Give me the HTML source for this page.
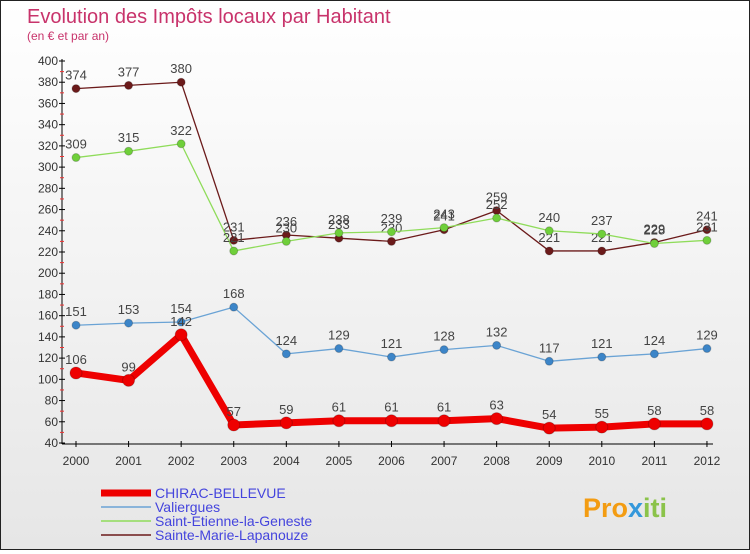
<!DOCTYPE html>
<html><head><meta charset="utf-8"><style>
body{margin:0;width:750px;height:550px;overflow:hidden;font-family:"Liberation Sans",sans-serif}
#wrap{position:relative;width:748px;height:548px;border:1px solid #222;background:linear-gradient(#fff,#e6e6e6)}
</style></head><body>
<div id="wrap">
<svg id="chart" width="748" height="548">
<text x="26" y="22" font-size="20" fill="#c8336b">Evolution des Impôts locaux par Habitant</text>
<text x="26" y="39" font-size="12" fill="#c8336b">(en € et par an)</text>
<g id="axes"></g><g id="series"></g><g id="legend"></g>
<text x="582" y="516" font-size="27" font-weight="bold" fill="#f39c12">Pro<tspan fill="#3498db">x</tspan><tspan fill="#8bc34a">iti</tspan></text>
</svg></div>
<script>
const years=[2000,2001,2002,2003,2004,2005,2006,2007,2008,2009,2010,2011,2012];
const yTicks=[40,60,80,100,120,140,160,180,200,220,240,260,280,300,320,340,360,380,400];
const chirac=[106,99,142,57,59,61,61,61,63,54,55,58,58];
const valiergues=[151,153,154,168,124,129,121,128,132,117,121,124,129];
const stEtienne=[309,315,322,221,230,238,239,243,252,240,237,228,231];
const steMarie=[374,377,380,231,236,233,230,241,259,221,221,229,241];
const seriesNames=["CHIRAC-BELLEVUE","Valiergues","Saint-Etienne-la-Geneste","Sainte-Marie-Lapanouze"];
const NS="http://www.w3.org/2000/svg";
const X=i=>75+i*52.58, Y=v=>442-(v-40)*382/360;
function mk(t,a,p){const e=document.createElementNS(NS,t);for(const k in a)e.setAttribute(k,a[k]);p.appendChild(e);return e;}
const ax=document.getElementById('axes');
let l=mk('line',{x1:61,y1:58,x2:61,y2:443,stroke:'#000'},ax);
l=mk('line',{x1:61,y1:443,x2:712,y2:443,stroke:'#000'},ax);
yTicks.forEach((v,i)=>{mk('line',{x1:58,x2:64,y1:Y(v),y2:Y(v),stroke:'#000'},ax);
 if(i<yTicks.length-1)mk('line',{x1:59,x2:63,y1:Y(v+10),y2:Y(v+10),stroke:'#e33'},ax);
 const t=mk('text',{x:57,y:Y(v)+4,'text-anchor':'end','font-size':12,fill:'#333'},ax);t.textContent=v;
 });
years.forEach((y,i)=>{mk('line',{x1:X(i),x2:X(i),y1:440,y2:446,stroke:'#000'},ax);
 const t=mk('text',{x:X(i),y:464,'text-anchor':'middle','font-size':12,fill:'#333'},ax);t.textContent=y;
 });
const sg=document.getElementById('series');
const defs=[[steMarie,'#6b1a1a','#6b1a1a',1.3,4,'sainte-marie'],[stEtienne,'#8fdc5a','#6fcf3a',1.3,4,'saint-etienne'],[valiergues,'#6aa3d5','#3c85c8',1.3,4,'valiergues'],[chirac,'#ee0000','#ee0000',7,6,'chirac']];
defs.forEach(([d,c,dc,w,r,n])=>{
 const g=mk('g',{},sg);
 const p=mk('polyline',{points:d.map((v,i)=>X(i)+','+Y(v)).join(' '),fill:'none',stroke:c,'stroke-width':w,'stroke-linejoin':'round'},g);
 
 d.forEach((v,i)=>{const m=mk('circle',{cx:X(i),cy:Y(v),r:r,fill:dc,stroke:'#0003'},g);
  
  const t=mk('text',{x:X(i),y:Y(v)-9,'text-anchor':'middle','font-size':13,fill:'#444'},g);t.textContent=v;
  });
});
const lg=document.getElementById('legend');
const lc=['#ee0000','#6aa3d5','#8fdc5a','#6b1a1a'],lw=[7,1.5,1.5,1.5];
seriesNames.forEach((s,i)=>{const y=492+i*14;
 const g=mk('g',{},lg);
 mk('line',{x1:100,x2:150,y1:y,y2:y,stroke:lc[i],'stroke-width':lw[i]},g);
 const t=mk('text',{x:154,y:y+5,'font-size':14,fill:'#4444dd'},g);t.textContent=s;});
</script></body></html>
